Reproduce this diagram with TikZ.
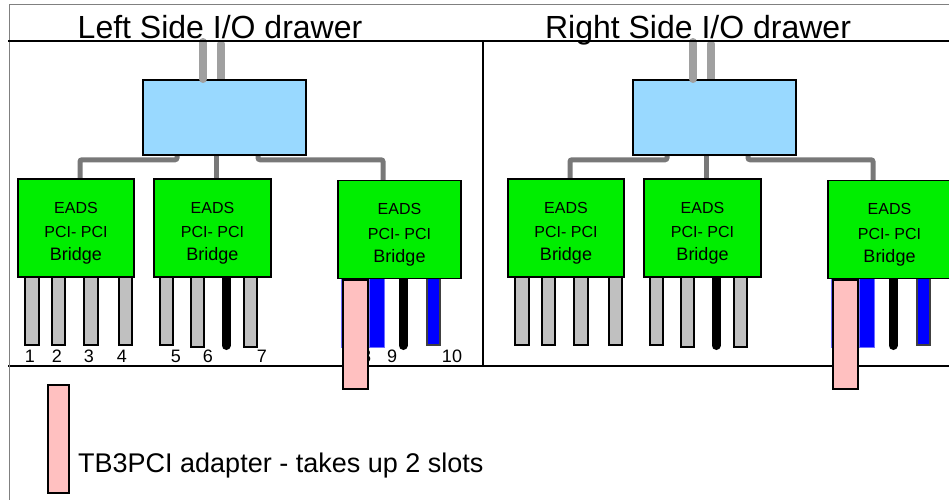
\documentclass[tikz,border=0pt]{standalone}
\usepackage{fontspec}
\setmainfont{Liberation Sans}
\usetikzlibrary{calc}

\definecolor{hubblue}{RGB}{153,217,255}
\definecolor{eadsgreen}{RGB}{0,238,0}
\definecolor{slotgray}{RGB}{192,192,192}
\definecolor{tbpink}{RGB}{255,192,192}
\definecolor{cablegray}{RGB}{160,160,160}
\definecolor{linkgray}{RGB}{120,120,120}
\definecolor{slotblue}{RGB}{0,0,255}
\definecolor{lightedge}{RGB}{110,110,255}
\definecolor{framegray}{RGB}{128,128,128}

\pgfdeclarelayer{back}
\pgfsetlayers{back,main}

\tikzset{
  hub/.style={draw=black, line width=1.5pt, fill=hubblue,
    minimum width=163pt, minimum height=75pt, inner sep=0pt},
  bridge/.style={draw=black, line width=1.5pt, fill=eadsgreen,
    minimum height=98pt, inner sep=0pt},
  cable/.style={cablegray, line width=8pt, line cap=round},
  link/.style={linkgray, line width=5pt, rounded corners=2pt},
  graybar/.style={draw=black, line width=1.2pt, fill=slotgray},
  bluebar/.style={draw=lightedge, line width=0.8pt, fill=slotblue},
  bluebarb/.style={draw=black!75, line width=1.2pt, fill=slotblue},
  blackcable/.style={black, line width=9pt, line cap=round},
  pinkcard/.style={draw=black, line width=1.5pt, fill=tbpink},
  small/.style={font=\fontsize{16}{19}\selectfont, inner sep=0pt, anchor=base},
  smallb/.style={font=\fontsize{18}{21}\selectfont, inner sep=0pt, anchor=base},
  slotnum/.style={font=\fontsize{18}{21}\selectfont, inner sep=0pt, anchor=base},
  heading/.style={font=\fontsize{32}{36}\selectfont, inner sep=0pt, anchor=base},
  frame/.style={black, line width=2pt},
}

% text of one EADS bridge
\newcommand\bridgetext[1]{%
  \node[small]  at ($(#1.center)+(0,-14.7)$) {EADS};
  \node[small]  at ($(#1.center)+(0,9.7)$)   {PCI- PCI};
  \node[smallb] at ($(#1.center)+(0,32.7)$)  {Bridge};
}

% one I/O drawer: hub, three bridges, their slots and the TB3PCI card
\newcommand\iodrawer[2]{%
\begin{scope}[xshift=#2]
  \node[hub] (hub#1) at (224.5,117.5) {};
  \node[bridge, minimum width=116pt] (br#1a) at (76,228) {};
  \node[bridge, minimum width=117pt] (br#1b) at (212.5,228) {};
  \node[bridge, minimum width=123pt] (br#1c) at (399.5,229.5) {};
  \bridgetext{br#1a}
  \bridgetext{br#1b}
  \bridgetext{br#1c}
  \draw[cable] (203,42) -- (203,79);
  \begin{pgfonlayer}{back}
    \draw[cable] (221,44) -- (221,80);
    \draw[link] ([xshift=-47.5pt]hub#1.south) -- ++(0,4) -| ([xshift=4pt]br#1a.north);
    \draw[link] ([xshift=-8.5pt]hub#1.south) -- ([xshift=-8.5pt]hub#1.south |- br#1b.north);
    \draw[link] ([xshift=33.5pt]hub#1.south) -- ++(0,4) -| ([xshift=-16.5pt]br#1c.north);
    % slots of the first bridge
    \draw[graybar] (25,277) rectangle (39,345);
    \draw[graybar] (52,277) rectangle (65,345);
    \draw[graybar] (84,277) rectangle (98,345);
    \draw[graybar] (119,277) rectangle (132,345);
    % slots of the second bridge
    \draw[graybar] (160,277) rectangle (173,345);
    \draw[graybar] (191,277) rectangle (204,347);
    \draw[blackcable] (226,277) -- (226,345.5);
    \draw[graybar] (244,277) rectangle (257,347);
    % slots of the third bridge
    \draw[bluebar] (341,278) rectangle (356,347);
    \draw[bluebar] (369,278) rectangle (384,347);
    \draw[blackcable] (403,278) -- (403,345.5);
    \draw[bluebarb] (427,278) rectangle (440,345);
  \end{pgfonlayer}
  \draw[pinkcard] (343,280) rectangle (368,389);
\end{scope}}

\begin{document}
\begin{tikzpicture}[x=1pt, y=-1pt]
  \useasboundingbox (0,0) rectangle (949,500);
  \begin{pgfonlayer}{back}
    \fill[white] (0,0) rectangle (949,500);
    \draw[frame] (8,366) -- (949,366);
  \end{pgfonlayer}

  % slot numbers of the left drawer
  \foreach \n/\x in {1/30,2/57,3/89,4/122,5/176,6/208,7/262,8/366,9/392,10/452}
    \node[slotnum] (num\n) at (\x,362) {\n};

  \iodrawer{L}{0pt}
  \iodrawer{R}{490pt}

  % frame
  \draw[framegray, line width=1pt] (9,5) -- (949,5);
  \draw[framegray, line width=1pt] (9,5) -- (9,500);
  \draw[frame] (8,41) -- (949,41);
  \draw[frame] (483,41) -- (483,366);

  % headings
  \node[heading] (titleL) at (220,39) {Left Side I/O drawer};
  \node[heading] (titleR) at (698,39) {Right Side I/O drawer};

  % legend
  \draw[pinkcard] (48,385) rectangle (69,493);
  \node[font=\fontsize{27}{32}\selectfont, inner sep=0pt, anchor=base west]
    (legend) at (78,472) {TB3PCI adapter - takes up 2 slots};
\end{tikzpicture}
\end{document}
